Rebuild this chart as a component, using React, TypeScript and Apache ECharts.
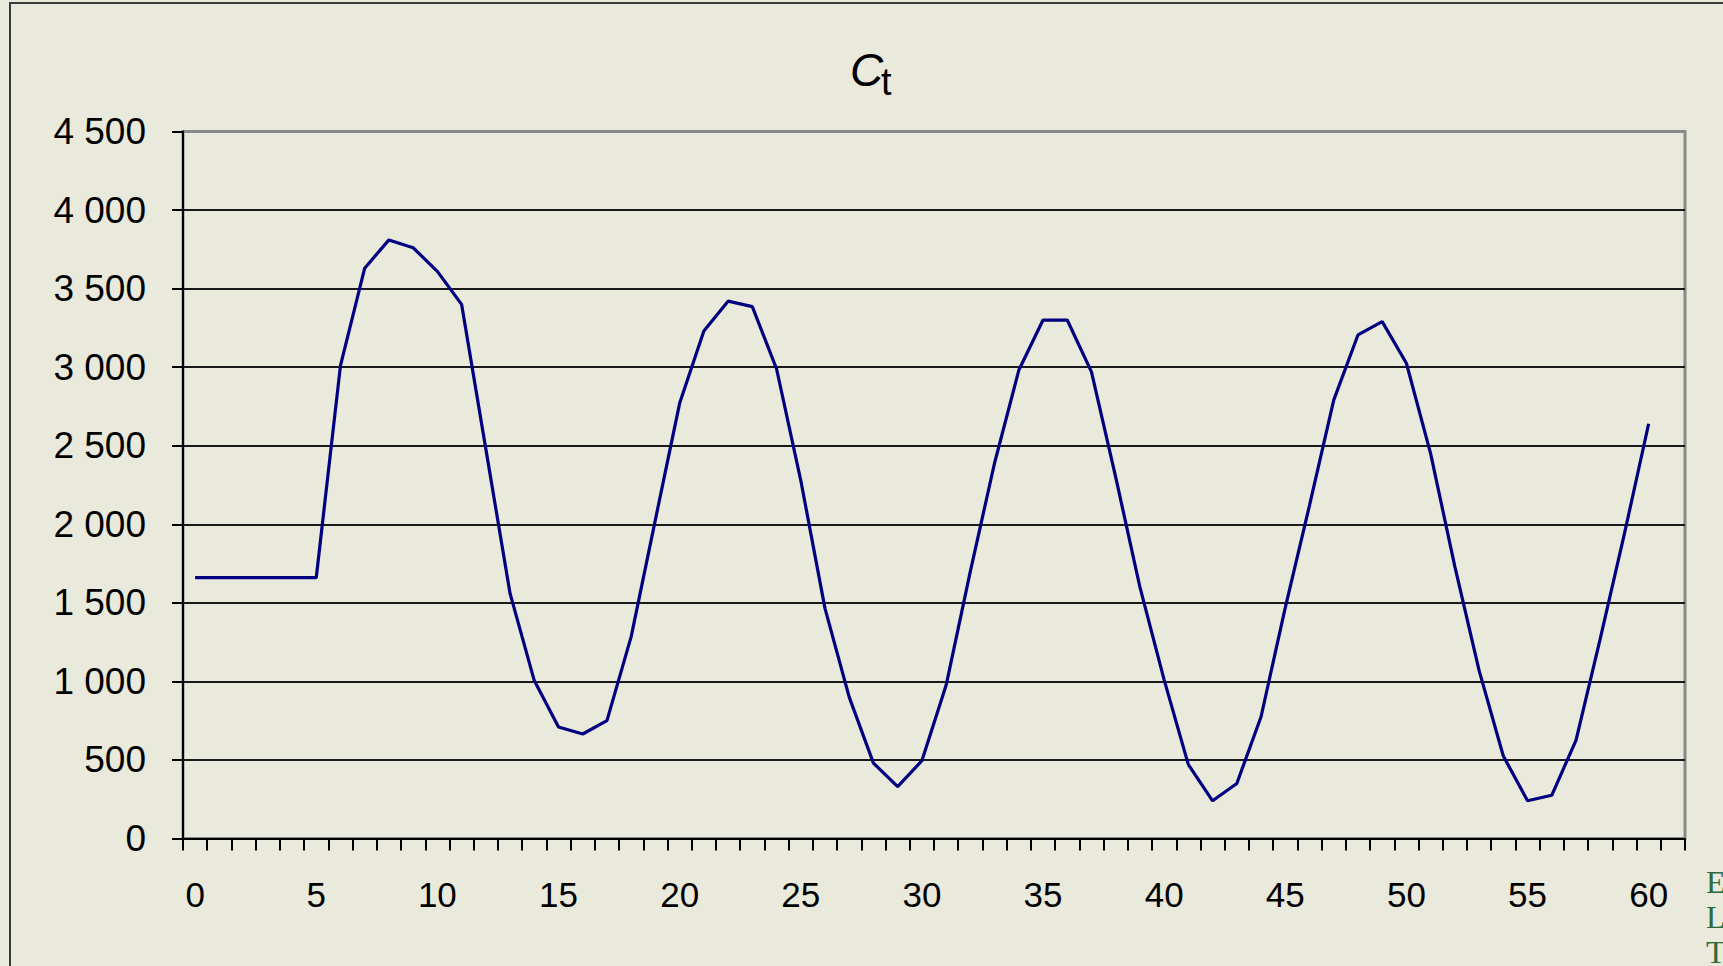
import React, { useEffect, useRef } from "react";
import * as echarts from "echarts";

const xCategories: string[] = Array.from({ length: 62 }, (_, i) => String(i));

const ctValues: number[] = [
  1660, 1660, 1660, 1660, 1660, 1660, 3010, 3630, 3810, 3760,
  3610, 3400, 2480, 1560, 1005, 710, 665, 750, 1285, 2030,
  2770, 3230, 3420, 3385, 2990, 2280, 1465, 900, 480, 330,
  495, 975, 1700, 2390, 2980, 3300, 3300, 2970, 2300, 1600,
  1010, 470, 240, 350, 775, 1470, 2120, 2790, 3205, 3290,
  3025, 2450, 1730, 1070, 525, 240, 275, 625, 1270, 1940,
  2640,
];

const yTickLabels: string[] = [
  "0", "500", "1 000", "1 500", "2 000", "2 500",
  "3 000", "3 500", "4 000", "4 500",
];

const sideLetters: string[] = ["E", "L", "T"];

export default function App() {
  const ref = useRef<HTMLDivElement>(null);

  useEffect(() => {
    if (!ref.current) return;
    const chart = echarts.init(ref.current, undefined, { renderer: "svg" });
    const gridColors = [
      "#1a1a1a", "#1a1a1a", "#1a1a1a", "#1a1a1a", "#1a1a1a",
      "#1a1a1a", "#1a1a1a", "#1a1a1a", "#1a1a1a", "#8a8a8a",
    ];
    chart.setOption({
      animation: false,
      backgroundColor: "#e9e9dc",
      grid: {
        left: 183,
        right: 38,
        top: 131.5,
        bottom: 127.5,
        show: true,
        borderColor: "#8a8a8a",
        borderWidth: 3,
        backgroundColor: "transparent",
      },
      xAxis: {
        type: "category",
        data: xCategories,
        boundaryGap: true,
        axisLine: { show: true, lineStyle: { color: "#000", width: 2 } },
        axisTick: { show: true, interval: 0, length: 12, lineStyle: { color: "#000", width: 2 } },
        axisLabel: {
          fontFamily: "Liberation Sans",
          fontSize: 35,
          color: "#000",
          margin: 38,
          interval: (i: number) => i % 5 === 0 && i <= 60,
        },
        splitLine: { show: false },
      },
      yAxis: {
        type: "value",
        min: 0,
        max: 4500,
        interval: 500,
        axisLine: { show: true, lineStyle: { color: "#000", width: 2 } },
        axisTick: { show: true, length: 11, lineStyle: { color: "#000", width: 2 } },
        axisLabel: {
          fontFamily: "Liberation Sans",
          fontSize: 37,
          color: "#000",
          margin: 37,
          formatter: (v: number) => yTickLabels[Math.round(v / 500)] ?? String(v),
        },
        splitLine: { show: true, lineStyle: { color: gridColors, width: 2 } },
      },
      series: [
        {
          type: "line",
          data: ctValues,
          symbol: "none",
          lineStyle: { color: "#000080", width: 3.2 },
          z: 5,
        },
      ],
      graphic: [
        {
          type: "rect",
          silent: true,
          z: 0,
          shape: { x: 10, y: 3, width: 1800, height: 1100 },
          style: { fill: "none", stroke: "#3a3a3a", lineWidth: 2 },
        },
        {
          type: "text",
          x: 850,
          y: 70,
          style: {
            text: "C",
            fontSize: 46,
            fontStyle: "italic",
            fontFamily: "Liberation Sans",
            fill: "#000",
            align: "left",
            verticalAlign: "middle",
          },
        },
        {
          type: "text",
          x: 881,
          y: 82,
          style: {
            text: "t",
            fontSize: 38,
            fontFamily: "Liberation Sans",
            fill: "#000",
            align: "left",
            verticalAlign: "middle",
          },
        },
        ...sideLetters.map((s, i) => ({
          type: "text",
          x: 1706,
          y: 882 + i * 35,
          style: {
            text: s,
            fontSize: 32,
            fontFamily: "Liberation Serif",
            fill: "#2d6b3c",
            align: "left",
            verticalAlign: "middle",
          },
        })),
      ],
    });
    return () => chart.dispose();
  }, []);

  return (
    <div
      ref={ref}
      style={{ position: "absolute", left: 0, top: 0, width: 1723, height: 966 }}
    />
  );
}
